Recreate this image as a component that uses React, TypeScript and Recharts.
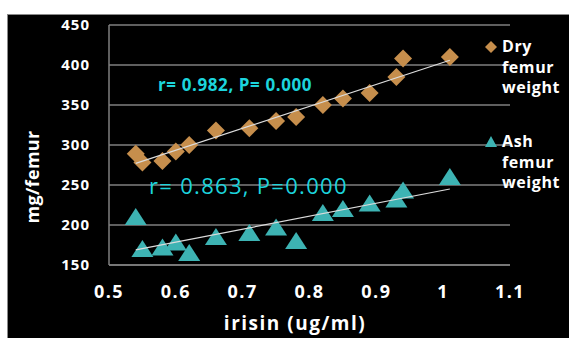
import { ScatterChart, Scatter, XAxis, YAxis, CartesianGrid } from 'recharts'

// irisin concentration (x) shared by both series
const irisin = [0.54, 0.55, 0.58, 0.6, 0.62, 0.66, 0.71, 0.75, 0.78, 0.82, 0.85, 0.89, 0.93, 0.94, 1.01]
const dryWeight = [289, 278, 280, 292, 300, 318, 321, 330, 335, 350, 358, 365, 385, 408, 410]
const ashWeight = [210, 170, 172, 178, 165, 185, 190, 197, 180, 215, 220, 227, 232, 243, 260]

// trendline end points
const trendX = [0.54, 1.01]
const dryTrendY = [277, 406]
const ashTrendY = [169, 245]

const xTicks = [0.5, 0.6, 0.7, 0.8, 0.9, 1, 1.1]
const yTicks = [150, 200, 250, 300, 350, 400, 450]

const dryData = irisin.map((x, i) => ({ x, y: dryWeight[i] }))
const ashData = irisin.map((x, i) => ({ x, y: ashWeight[i] }))
const dryTrend = trendX.map((x, i) => ({ x, y: dryTrendY[i] }))
const ashTrend = trendX.map((x, i) => ({ x, y: ashTrendY[i] }))

const DRY = '#C68E4C'
const ASH = '#3DB3B3'
const CYAN = '#1CD4DC'
const GRID = '#7f7f7f'
const FONT = '"Open Sans", sans-serif'

const Diamond = (p: any) => (
    <polygon
        points={`${p.cx},${p.cy - 9} ${p.cx + 9},${p.cy} ${p.cx},${p.cy + 9} ${p.cx - 9},${p.cy}`}
        fill={DRY}
    />
)

const Triangle = (p: any) => (
    <polygon
        points={`${p.cx},${p.cy - 9} ${p.cx + 11},${p.cy + 8} ${p.cx - 11},${p.cy + 8}`}
        fill={ASH}
    />
)

const NoMark = () => <g />

function LegendItem({ top, marker, lines }: { top: number; marker: 'diamond' | 'triangle'; lines: string[] }) {
    return (
        <div style={{ position: 'absolute', left: 476, top }}>
            <svg width={14} height={14} style={{ position: 'absolute', left: 0, top: 4 }}>
                {marker === 'diamond'
                    ? <polygon points="7,1 13,7 7,13 1,7" fill={DRY} />
                    : <polygon points="7,1 13,12 1,12" fill={ASH} />}
            </svg>
            <div style={{ marginLeft: 18, color: '#fff', fontSize: 16, fontWeight: 700, lineHeight: '20.5px', letterSpacing: 0.6 }}>
                {lines.map(l => <div key={l}>{l}</div>)}
            </div>
        </div>
    )
}

export default function App() {
    return (
        <div
            style={{
                position: 'absolute', left: 7, top: 14, width: 562, height: 324,
                boxSizing: 'border-box', background: '#000',
                borderTop: '1px solid #8a8a8a', borderLeft: '1px solid #8a8a8a',
                fontFamily: FONT, overflow: 'hidden',
            }}
        >
            <ScatterChart width={561} height={323} margin={{ top: 10, right: 59, bottom: 0, left: 0 }}>
                <CartesianGrid vertical={false} stroke={GRID} strokeWidth={1.5} />
                <XAxis
                    type="number"
                    dataKey="x"
                    domain={[0.5, 1.1]}
                    ticks={xTicks}
                    height={73}
                    axisLine={{ stroke: GRID, strokeWidth: 1.5 }}
                    tickLine={false}
                    tickSize={20}
                    tickMargin={0}
                    tick={{ fill: '#fff', fontSize: 18, fontWeight: 700, letterSpacing: 1.5 }}
                />
                <YAxis
                    type="number"
                    dataKey="y"
                    domain={[150, 450]}
                    ticks={yTicks}
                    width={101}
                    axisLine={{ stroke: GRID, strokeWidth: 1.5 }}
                    tickLine={false}
                    tickSize={19}
                    tickMargin={0}
                    tick={{ fill: '#fff', fontSize: 15, fontWeight: 700, letterSpacing: 1 }}
                />
                <Scatter data={dryData} shape={Diamond} isAnimationActive={false} />
                <Scatter data={ashData} shape={Triangle} isAnimationActive={false} />
                <Scatter data={dryTrend} shape={NoMark} line={{ stroke: '#dcdcdc', strokeWidth: 1.2 }} isAnimationActive={false} />
                <Scatter data={ashTrend} shape={NoMark} line={{ stroke: '#dcdcdc', strokeWidth: 1.2 }} isAnimationActive={false} />
            </ScatterChart>

            {/* axis titles */}
            <div
                style={{
                    position: 'absolute', left: 24, top: 162, transform: 'translate(-50%, -50%) rotate(-90deg)',
                    color: '#fff', fontSize: 18, fontWeight: 700, whiteSpace: 'nowrap', letterSpacing: 0.3,
                }}
            >
                mg/femur
            </div>
            <div
                style={{
                    position: 'absolute', left: 287, top: 308, transform: 'translate(-50%, -50%)',
                    color: '#fff', fontSize: 19, fontWeight: 700, whiteSpace: 'nowrap', letterSpacing: 1.5,
                }}
            >
                irisin (ug/ml)
            </div>

            {/* correlation notes */}
            <div
                style={{
                    position: 'absolute', left: 150, top: 69, transform: 'translateY(-50%)',
                    color: CYAN, fontSize: 17, fontWeight: 700, whiteSpace: 'nowrap', letterSpacing: 0.6,
                }}
            >
                r= 0.982, P= 0.000
            </div>
            <div
                style={{
                    position: 'absolute', left: 141, top: 170, transform: 'translateY(-50%)',
                    color: CYAN, fontSize: 22, whiteSpace: 'nowrap', letterSpacing: 1.3,
                }}
            >
                r= 0.863, P=0.000
            </div>

            {/* legend */}
            <LegendItem top={21} marker="diamond" lines={['Dry', 'femur', 'weight']} />
            <LegendItem top={116} marker="triangle" lines={['Ash', 'femur', 'weight']} />
        </div>
    )
}
